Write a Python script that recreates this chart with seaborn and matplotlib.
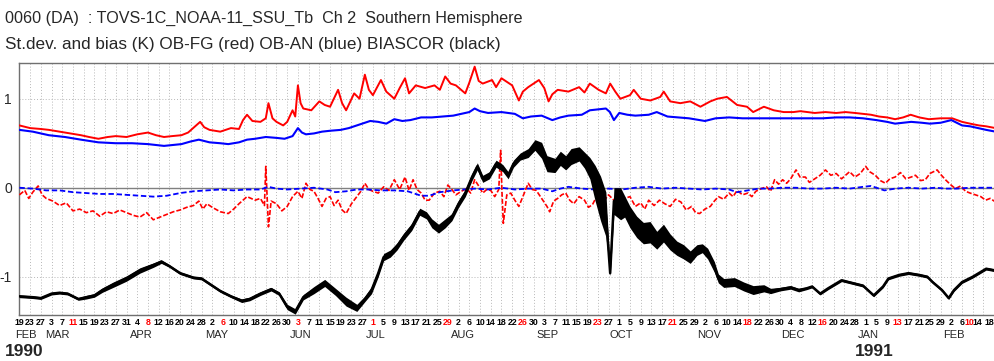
import numpy as np
import pandas as pd
import matplotlib
matplotlib.use("Agg")
import matplotlib.pyplot as plt
import matplotlib.transforms as mtransforms
import seaborn as sns

# ---------------- data (days since 1990-02-19) ----------------
red_sd_day = [0,4,8,11,15,19,23,26,29.5,33,36,40,44,48,51,54,57,60.5,63,66,67.5,69,71,75,79,82,83.5,85,87,90,92,93,94.5,96,98.5,100,102,103,104,105,106,109,112,114,116,119,120.5,122,125,127,129,130.5,132,135,137,140,142,144,145.5,148,151.5,155,157,159,161,163,166.5,168,170,171.5,173,176.5,178,180,184,186.5,188,190,194,196,197.6,199,201,205,209,211,213,216.3,219,220.6,222.5,224.4,228,229.4,232,235.6,239.3,240.6,243,246.8,250.5,254.3,258,260.6,264.2,268,271.7,274,278,281.7,285.4,289,291.6,297,301,305,308.5,312,315,318,321,324,327,330,332.8,336,339.6,344,348.3,352,355,358.3,361,364.5]
red_sd_val = [0.70,0.67,0.66,0.65,0.63,0.61,0.59,0.57,0.55,0.57,0.58,0.57,0.60,0.62,0.59,0.57,0.58,0.59,0.62,0.70,0.74,0.68,0.65,0.63,0.67,0.66,0.76,0.82,0.75,0.74,0.78,0.95,0.78,0.74,0.70,0.74,0.87,0.80,1.15,0.95,0.89,0.87,0.97,0.93,0.91,1.10,0.95,0.87,1.06,1.00,1.27,1.10,1.04,1.21,1.08,1.00,1.12,1.23,1.06,1.15,1.12,1.15,1.10,1.25,1.17,1.15,1.06,1.18,1.36,1.20,1.17,1.21,1.13,1.23,1.15,0.98,1.08,1.13,1.21,1.12,0.97,1.05,1.10,1.08,1.13,1.07,1.17,1.10,1.06,1.17,1.08,1.00,1.04,1.10,1.00,0.98,1.02,1.08,0.97,0.95,0.97,0.91,0.97,1.00,1.02,0.93,0.91,0.85,0.91,0.87,0.85,0.85,0.86,0.84,0.85,0.84,0.85,0.84,0.83,0.82,0.80,0.79,0.77,0.79,0.82,0.79,0.77,0.78,0.78,0.74,0.72,0.70,0.69,0.67]

blue_sd_day = [0,5,11,17,23,29.5,36,42,48,54,60.5,64,67,71,75,78,82,85,88,92,96,99,102,104,105.5,107,110,113,116,120,123,126,129,131,134,137,140,143,146,150,154,158,162,165,168,170,172,175,180,185,188,191,195,199,202,205,210,213,216,219,220.5,222,224,227,230,235,238,242,246,250,256,260,265,270,275,280,285,291,296,300,305,310,315,320,324,327,330,333,337,340,344,348,352,355,358,361,364.5]
blue_sd_val = [0.65,0.63,0.59,0.57,0.54,0.51,0.50,0.50,0.49,0.47,0.49,0.52,0.54,0.51,0.50,0.49,0.51,0.54,0.55,0.57,0.56,0.55,0.58,0.67,0.62,0.60,0.61,0.63,0.64,0.65,0.67,0.70,0.73,0.75,0.74,0.72,0.77,0.75,0.76,0.79,0.79,0.80,0.81,0.83,0.85,0.89,0.86,0.84,0.85,0.83,0.78,0.80,0.81,0.76,0.79,0.81,0.82,0.87,0.88,0.89,0.85,0.76,0.84,0.82,0.81,0.82,0.85,0.80,0.79,0.78,0.75,0.78,0.79,0.78,0.78,0.78,0.78,0.78,0.78,0.78,0.79,0.79,0.78,0.76,0.74,0.72,0.73,0.74,0.73,0.72,0.73,0.76,0.70,0.69,0.67,0.65,0.63]

red_bias_day = [0,2,3.5,5,7,8.5,10,12.5,15,17.5,20,22.5,25,27.5,30,32.5,35,37.5,40,42.5,45,47.5,50,52.5,55,57.5,60,62.5,65,67,68.5,70,72,75,78,80,82,85,88,90,91.5,92,92.5,93,94,96,98,100,102,104,105.5,107,108.5,110,111.5,113,114.5,116,117.5,119,120.5,122,124,126,127.5,129,130.5,132,134,136,138,140,142,144,145.5,147,148.5,150,151.5,153,155,157,158.5,160,161.5,163,165,167,168.5,170,171.5,173,174.5,176,177.5,179,179.7,180.2,180.7,182,183.5,185,186.5,188,190,191.5,193,195,197,198,199.5,201,202.5,204,205.5,207,209,211,212.5,214,215.5,217,218.5,220,222,224,226,228,230,232,233.5,235,237,239,241,243,245,247,249,251,252.5,254,256,258,259.5,261,263,265,266.5,268,270,272,273.5,275,277,279,280.5,282,283.5,285,286.5,288,290,291.5,293.5,295,297,299,301,303,305,307,308.5,310,312,314,316,317.5,319.6,321.5,323.4,325,327,329,331,333,334.6,336.5,338.3,340,342.7,344,345.8,347.5,349.5,351.5,353.3,355,357,359,360.8,362.5,364.5]
red_bias_val = [-0.08,-0.03,-0.12,-0.05,0.02,-0.08,-0.12,-0.15,-0.20,-0.17,-0.26,-0.24,-0.28,-0.26,-0.32,-0.27,-0.29,-0.25,-0.28,-0.31,-0.33,-0.28,-0.36,-0.33,-0.30,-0.27,-0.25,-0.22,-0.20,-0.15,-0.24,-0.18,-0.22,-0.27,-0.29,-0.24,-0.18,-0.10,-0.14,-0.12,-0.20,0.24,-0.10,-0.44,-0.15,-0.18,-0.26,-0.21,-0.10,-0.04,-0.12,0.05,-0.02,-0.04,-0.12,-0.21,-0.12,-0.10,-0.20,-0.14,-0.25,-0.29,-0.18,-0.10,-0.04,0.05,-0.02,-0.04,-0.06,0.01,-0.03,0.09,-0.02,0.12,-0.03,0.09,-0.02,-0.06,-0.14,-0.14,-0.06,-0.04,-0.10,0.03,-0.02,-0.08,-0.04,-0.01,-0.06,0.09,0.02,-0.06,-0.02,-0.03,-0.10,-0.02,0.42,-0.05,-0.40,-0.08,-0.06,-0.14,-0.21,-0.10,0.05,-0.02,-0.03,-0.12,-0.21,-0.27,-0.15,-0.12,-0.08,-0.06,-0.14,-0.18,-0.10,-0.14,-0.22,-0.19,-0.10,-0.18,-0.14,-0.08,-0.14,-0.06,-0.12,-0.10,-0.21,-0.17,-0.24,-0.14,-0.20,-0.14,-0.18,-0.21,-0.13,-0.16,-0.25,-0.21,-0.28,-0.29,-0.24,-0.21,-0.15,-0.10,-0.13,-0.06,-0.10,-0.03,-0.08,-0.06,-0.10,-0.04,-0.01,0.01,-0.04,0.09,0.04,0.09,0.05,0.10,0.20,0.12,0.12,0.06,0.10,0.14,0.20,0.14,0.16,0.10,0.14,0.18,0.12,0.16,0.24,0.18,0.14,0.08,0.05,0.10,0.12,0.17,0.10,0.12,0.14,0.08,0.09,0.16,0.20,0.15,0.09,0.04,-0.01,0.02,-0.04,-0.06,-0.08,-0.10,-0.14,-0.12,-0.16]

blue_bias_day = [0,5,10,15,20,25,30,35,40,45,50,55,60,65,70,75,80,85,90,93,96,100,105,110,115,118,122,126,130,135,140,145,150,153,157,162,166,170,175,180,185,190,195,199,202,205,210,215,220,225,230,235,240,245,250,255,260,265,268,272,276,280,285,290,295,300,305,310,315,318,320,323,327,332,337,342,346,350,355,360,364.5]
blue_bias_val = [0.0,-0.01,-0.03,-0.03,-0.05,-0.06,-0.07,-0.07,-0.08,-0.09,-0.10,-0.09,-0.06,-0.04,-0.03,-0.02,-0.03,-0.02,-0.02,0.01,-0.01,-0.02,-0.01,0.0,-0.02,-0.05,-0.04,-0.02,-0.02,-0.03,-0.03,-0.04,-0.09,-0.09,-0.05,-0.03,-0.02,-0.01,-0.02,0.0,-0.02,-0.01,-0.01,-0.04,-0.01,0.01,-0.01,-0.02,-0.01,-0.02,0.0,0.01,-0.01,0.0,-0.01,-0.02,-0.01,-0.02,-0.05,-0.03,-0.01,-0.01,0.0,0.0,-0.01,-0.01,0.0,-0.01,0.01,0.02,0.0,-0.03,-0.01,0.0,-0.01,0.0,-0.01,-0.01,0.0,0.0,0.0]

biascor_day = [0,5,8,12,15,18,20,22,25,28,31,35,40,45,50,53,56,60,65,68,71,75,79,83,86,90,94,97,100,103,106,110,114,118,122,126,129,131.5,134,136,138.5,141,143.5,146.5,149.5,152,154,156.5,159,161.5,164,166.5,169,171,173,175.5,178,180.5,182.5,184.5,187,190,192.5,195,197,200,202,204,206,209,211,213,215,217,219,220.6,222,224.5,226,228,230.5,233,235.5,238,240.5,243,245.5,248,250.5,253,255,257,259.5,261,263,267,270.5,274,278,280.5,284,288,291,294,296,299,302,307,311,315,319,322.5,324.5,328.5,332,336,339,341,344.5,347,349,352,356,361,364.5]
biascor_val = [-1.22,-1.23,-1.24,-1.19,-1.18,-1.19,-1.22,-1.25,-1.23,-1.21,-1.15,-1.09,-1.02,-0.93,-0.87,-0.83,-0.88,-0.96,-1.01,-1.02,-1.08,-1.16,-1.22,-1.27,-1.25,-1.19,-1.14,-1.19,-1.34,-1.39,-1.23,-1.15,-1.07,-1.17,-1.28,-1.35,-1.25,-1.15,-0.96,-0.78,-0.74,-0.66,-0.55,-0.44,-0.27,-0.31,-0.40,-0.46,-0.40,-0.33,-0.18,-0.06,0.12,0.24,0.10,0.14,0.27,0.22,0.14,0.27,0.35,0.39,0.48,0.42,0.27,0.25,0.33,0.28,0.35,0.38,0.31,0.22,0.05,-0.12,-0.30,-0.96,-0.15,-0.18,-0.21,-0.33,-0.44,-0.51,-0.50,-0.59,-0.51,-0.61,-0.68,-0.72,-0.78,-0.70,-0.68,-0.74,-0.89,-1.02,-1.07,-1.06,-1.11,-1.15,-1.13,-1.16,-1.14,-1.12,-1.15,-1.13,-1.11,-1.19,-1.13,-1.04,-1.07,-1.10,-1.21,-1.11,-1.02,-0.98,-0.96,-0.98,-1.00,-1.06,-1.15,-1.24,-1.15,-1.06,-1.00,-0.91,-0.93]
biascor_spread = [0.015,0.015,0.015,0.015,0.015,0.015,0.015,0.015,0.02,0.02,0.025,0.03,0.03,0.03,0.025,0.02,0.015,0.015,0.015,0.015,0.015,0.015,0.015,0.02,0.02,0.02,0.02,0.02,0.03,0.03,0.03,0.04,0.04,0.04,0.05,0.04,0.03,0.04,0.04,0.04,0.04,0.04,0.04,0.04,0.04,0.04,0.05,0.05,0.05,0.04,0.04,0.04,0.04,0.04,0.04,0.04,0.04,0.04,0.04,0.04,0.04,0.05,0.06,0.09,0.09,0.08,0.08,0.08,0.09,0.08,0.09,0.12,0.2,0.25,0.25,0.03,0.15,0.18,0.12,0.12,0.12,0.12,0.12,0.1,0.1,0.09,0.08,0.08,0.07,0.06,0.05,0.06,0.06,0.05,0.05,0.05,0.05,0.05,0.04,0.03,0.02,0.02,0.02,0.015,0.015,0.015,0.015,0.015,0.015,0.015,0.015,0.015,0.015,0.015,0.015,0.015,0.015,0.015,0.015,0.015,0.015,0.015,0.015,0.015,0.015]

start_date = "1990-02-19"
n_ticks = 92
month_names = ["FEB","MAR","APR","MAY","JUN","JUL","AUG","SEP","OCT","NOV","DEC","JAN","FEB"]
month_days = [-1.6,9.6,41.3,69.5,101,129.5,161,193,220.5,253,284.6,313,345]
year_labels = ["1990","1991"]

# ---------------- figure ----------------
sns.set_style("white")
plt.rcParams['font.family'] = ['Liberation Sans', 'DejaVu Sans']

W, H = 995, 361
fig = plt.figure(figsize=(W/100, H/100), dpi=100)
x0, x1, ytop, ybot = 19.4, 995, 63.3, 315
ax = fig.add_axes([x0/W, 1-ybot/H, (x1-x0)/W, (ybot-ytop)/H])
ax.set_xlim(0, (x1-x0)/2.678)
ax.set_ylim(-1.43, 1.398)

ticks = np.arange(n_ticks)*4
for t in ticks:
    ax.axvline(t, color="#b8b8b8", lw=0.7, ls=(0, (1, 2)), zorder=0)
for yy in (1, -1):
    ax.axhline(yy, color="#b8b8b8", lw=0.7, ls=(0, (1, 2)), zorder=0)
ax.axhline(0, color="#808080", lw=1.0, zorder=1)

sns.lineplot(x=red_sd_day, y=red_sd_val, ax=ax, color="#ff0000", lw=1.4, zorder=3)
sns.lineplot(x=red_bias_day, y=red_bias_val, ax=ax, color="#ff0000", lw=1.2,
             linestyle=(0, (3, 1.2)), zorder=3)
sns.lineplot(x=blue_sd_day, y=blue_sd_val, ax=ax, color="#0000ff", lw=1.5, zorder=4)
sns.lineplot(x=blue_bias_day, y=blue_bias_val, ax=ax, color="#0000ff", lw=1.3,
             linestyle=(0, (3, 1.5)), zorder=4)
bc = np.array(biascor_val); sp = np.array(biascor_spread)
ax.fill_between(biascor_day, bc-sp, bc+sp, color="black", lw=0, zorder=5)
sns.lineplot(x=biascor_day, y=biascor_val, ax=ax, color="black", lw=1.8, zorder=5)

# axes styling
for s in ax.spines.values():
    s.set_color("#707070"); s.set_linewidth(1.0)
dates = pd.date_range(start_date, periods=n_ticks, freq="4D")
day_labels = [str(d.day) for d in dates]
label_colors = ["#ff0000" if i % 7 == 5 else "black" for i in range(n_ticks)]
n_manual = 3  # the last labels are squeezed by hand to fit at the right edge
ax.set_xticks(ticks)
ax.set_xticklabels(day_labels[:-n_manual] + [""]*n_manual, fontsize=6.3, fontweight="bold")
for lab, c in zip(ax.get_xticklabels(), label_colors):
    lab.set_color(c)
ax.tick_params(axis="x", length=2, width=0.8, color="#707070", pad=0.3, direction="out")

trans = mtransforms.blended_transform_factory(ax.transData, ax.transAxes)
for k, dx, ha in zip(range(n_ticks-n_manual, n_ticks), (-2.6, -4.2, 0.0), ("center", "center", "right")):
    tr = mtransforms.offset_copy(trans, fig=fig, x=dx, y=-2.3, units="points")
    ax.text(ticks[k], 0, day_labels[k], transform=tr, fontsize=6.3, fontweight="bold",
            color=label_colors[k], ha=ha, va="top", clip_on=False)

ax.set_yticks([-1, 0, 1])
ax.set_yticklabels(["-1", "0", "1"], fontsize=10)
ax.tick_params(axis="y", length=4, width=0.8, color="#707070", pad=1.5, direction="out")
ax.set_xlabel(""); ax.set_ylabel("")

ym = (ybot-334.5)/(ybot-ytop)
for name, d in zip(month_names, month_days):
    ax.text(d, ym, name, transform=trans, fontsize=8, ha="left", va="center", clip_on=False)
yy = (ybot-352)/(ybot-ytop)
ax.text(-14.5/2.678, yy, year_labels[0], transform=trans, fontsize=12.5, fontweight="bold",
        ha="left", va="center", clip_on=False)
ax.text(312, yy, year_labels[1], transform=trans, fontsize=12.5, fontweight="bold",
        ha="left", va="center", clip_on=False)

fig.text(5/W, 1-18/H, "0060 (DA)  : TOVS-1C_NOAA-11_SSU_Tb  Ch 2  Southern Hemisphere",
         fontsize=11.6, ha="left", va="center")
fig.text(5/W, 1-44/H, "St.dev. and bias (K) OB-FG (red) OB-AN (blue) BIASCOR (black)",
         fontsize=12.3, ha="left", va="center")

fig.savefig("out.png", dpi=100)
